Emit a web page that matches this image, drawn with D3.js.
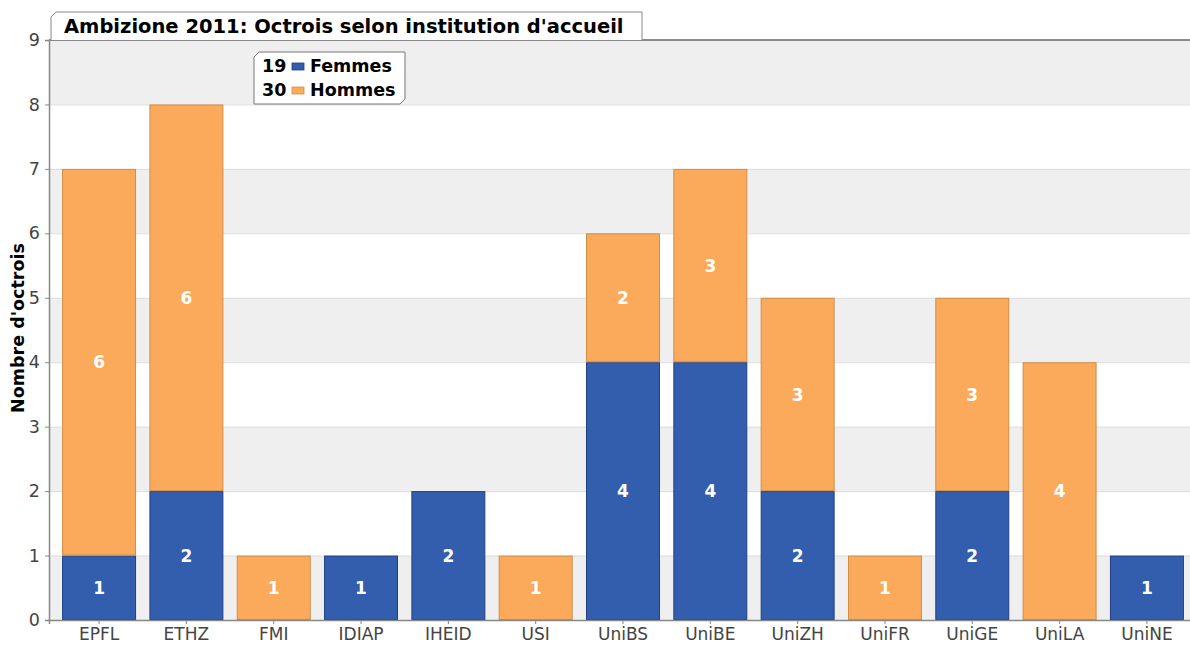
<!DOCTYPE html>
<html><head><meta charset="utf-8">
<script src="https://cdn.jsdelivr.net/npm/d3@7"></script>
<style>body{margin:0;background:#fff}svg{display:block;font-family:"DejaVu Sans",Verdana,sans-serif}</style>
</head><body><svg id="c" width="1190" height="646"></svg>
<script>
const categories = ["EPFL","ETHZ","FMI","IDIAP","IHEID","USI","UniBS","UniBE","UniZH","UniFR","UniGE","UniLA","UniNE"];
const femmes = [1,2,0,1,2,0,4,4,2,0,2,0,1];
const hommes = [6,6,1,0,0,1,2,3,3,1,3,4,0];
const yTicks = [0,1,2,3,4,5,6,7,8,9];
const seriesNames = ["Femmes","Hommes"];
const chartTitle = "Ambizione 2011: Octrois selon institution d'accueil";
const yTitle = "Nombre d'octrois";

(function(){
const colors = {Femmes:"#335eae", Hommes:"#fbaa5c"};
const strokes = {Femmes:"#1f3f86", Hommes:"#cf8d45"};

const svg = d3.select("#c");
const pL = 49, pT = 40, pB = 620, pR = 1197;
const x = d3.scaleBand().domain(categories).range([pL, pR]).paddingInner(0.153).paddingOuter(0.15);
const y = d3.scaleLinear().domain([0,9]).range([pB, pT]);

const g = svg.append("g");
for (let i = 0; i < 9; i++) {
  g.append("rect").attr("x", pL).attr("width", 1190-pL)
    .attr("y", y(i+1)).attr("height", y(i)-y(i+1))
    .attr("fill", i % 2 === 0 ? "#efefef" : "#ffffff");
}
g.selectAll("line.grid").data(yTicks.slice(1,9)).join("line")
  .attr("x1", pL).attr("x2", 1190).attr("y1", d=>y(d)+0.5).attr("y2", d=>y(d)+0.5)
  .attr("stroke", "#dcdcdc").attr("stroke-width", 1);

const rows = categories.map((c,i)=>({cat:c, Femmes:femmes[i], Hommes:hommes[i]}));
const stack = d3.stack().keys(seriesNames)(rows);
stack.forEach(layer => {
  const key = layer.key;
  const lg = svg.append("g");
  layer.forEach(d => {
    const v = d[1]-d[0];
    if (v <= 0) return;
    lg.append("rect").attr("x", x(d.data.cat)+0.5).attr("width", x.bandwidth()-1)
      .attr("y", y(d[1])+0.5).attr("height", y(d[0])-y(d[1])-1)
      .attr("fill", colors[key]).attr("stroke", strokes[key]).attr("stroke-width", 1);
    lg.append("text").attr("x", x(d.data.cat)+x.bandwidth()/2).attr("y", (y(d[0])+y(d[1]))/2)
      .attr("dy", "0.36em").attr("text-anchor", "middle").attr("fill", "#fff")
      .attr("font-weight", "bold").attr("font-size", 17).text(v);
  });
});

svg.append("line").attr("x1", pL).attr("x2", 1190).attr("y1", pT).attr("y2", pT)
  .attr("stroke", "#666").attr("stroke-width", 1.5);

const ya = svg.append("g").attr("transform", `translate(${pL},0)`)
  .call(d3.axisLeft(y).tickValues(yTicks).tickSize(4).tickPadding(5).tickFormat(d3.format("d")));
ya.select(".domain").attr("stroke", "#888").attr("stroke-width", 1.5);
ya.selectAll(".tick line").attr("stroke", "#888");
ya.selectAll("text").attr("font-size", 17.5).attr("fill", "#444").attr("font-family", "DejaVu Sans, Verdana, sans-serif");

const xa = svg.append("g").attr("transform", `translate(0,${pB})`)
  .call(d3.axisBottom(x).tickSize(4).tickPadding(4));
xa.select(".domain").attr("stroke", "#888").attr("stroke-width", 1.5);
xa.selectAll(".tick line").attr("stroke", "#888");
xa.selectAll("text").attr("font-size", 17).attr("fill", "#444").attr("font-family", "DejaVu Sans, Verdana, sans-serif");

svg.append("text").attr("transform", "translate(24,328) rotate(-90)")
  .attr("text-anchor", "middle").attr("font-weight", "bold").attr("font-size", 17.5)
  .attr("fill", "#000").text(yTitle);

const tx0 = 51, tx1 = 642, ty0 = 12, ty1 = 40;
svg.append("path")
  .attr("d", `M${tx0},${ty1} L${tx0},${ty0+5} L${tx0+5},${ty0} L${tx1},${ty0} L${tx1},${ty1}`)
  .attr("fill", "#fff").attr("stroke", "#888").attr("stroke-width", 1);
svg.append("text").attr("x", 64).attr("y", 33).attr("font-weight", "bold").attr("font-size", 19.5)
  .attr("fill", "#000").text(chartTitle);

const lx0 = 254, lx1 = 405, ly0 = 52, ly1 = 104, c = 5;
svg.append("path")
  .attr("d", `M${lx0},${ly0+c} L${lx0+c},${ly0} L${lx1},${ly0} L${lx1},${ly1-c} L${lx1-c},${ly1} L${lx0},${ly1} Z`)
  .attr("fill", "#fff").attr("stroke", "#777").attr("stroke-width", 1);
const totals = {Femmes: d3.sum(femmes), Hommes: d3.sum(hommes)};
seriesNames.forEach((k,i) => {
  const yy = 66 + i*24;
  svg.append("text").attr("x", 262).attr("y", yy).attr("dy", "0.36em").attr("font-weight","bold")
    .attr("font-size", 17.5).attr("fill", "#000").text(totals[k]);
  svg.append("rect").attr("x", 292).attr("y", yy-3).attr("width", 12).attr("height", 7)
    .attr("fill", colors[k]).attr("stroke", strokes[k]).attr("stroke-width", 0.8);
  svg.append("text").attr("x", 310).attr("y", yy).attr("dy", "0.36em").attr("font-weight","bold")
    .attr("font-size", 17.5).attr("fill", "#000").text(k);
});
})();
</script></body></html>
